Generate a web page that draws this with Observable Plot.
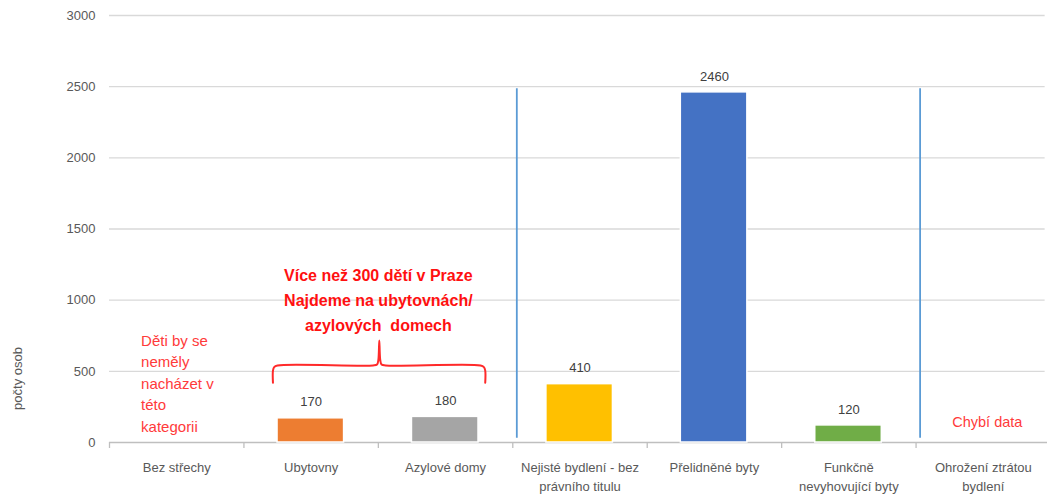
<!DOCTYPE html>
<html>
<head>
<meta charset="utf-8">
<script src="https://cdn.jsdelivr.net/npm/d3@7"></script>
<script src="https://cdn.jsdelivr.net/npm/@observablehq/plot@0.6"></script>
<style>
  html, body { margin: 0; padding: 0; background: #fff; }
  #chart svg { display: block; }
</style>
</head>
<body>
<div id="chart"></div>
<script>
// ---- data ----
const categories = [
  "Bez střechy",
  "Ubytovny",
  "Azylové domy",
  "Nejisté bydlení - bez\nprávního titulu",
  "Přelidněné byty",
  "Funkčně\nnevyhovující byty",
  "Ohrožení ztrátou\nbydlení"
];
const values = [null, 170, 180, 410, 2460, 120, null];
const barColors = ["#ffffff", "#ED7D31", "#A5A5A5", "#FFC000", "#4472C4", "#70AD47", "#ffffff"];
const yTicks = [0, 500, 1000, 1500, 2000, 2500, 3000];
const yLabel = "počty osob";
const noteLeft = "Děti by se\nneměly\nnacházet v\ntéto\nkategorii";
const noteBrace = "Více než 300 dětí v Praze\nNajdeme na ubytovnách/\nazylových  domech";
const noteMissing = "Chybí data";
// separator rules placed before these categories (indices)
const separators = [3, 6];

// ---- derived table ----
const data = categories.map((c, i) => ({i, category: c, value: values[i], color: barColors[i]}));
const bars = data.filter(d => d.value != null);

// brace path in data coordinates (x in category units, y in value units)
const braceX = [1.216, 1.216, 1.225, 1.25, 1.96, 1.99, 2.0, 2.007, 2.014, 2.024, 2.054, 2.76, 2.785, 2.795, 2.795];
const braceY = [420, 505, 530, 541, 541, 548, 580, 716, 580, 548, 541, 541, 530, 505, 420];
const brace = braceX.map((x, k) => ({x, y: braceY[k]}));

const font = "'Liberation Sans', Arial, sans-serif";
const grey = "#595959";

const plot = Plot.plot({
  width: 1047,
  height: 502,
  marginTop: 15,
  marginBottom: 60,
  marginLeft: 109,
  marginRight: 0,
  style: {fontFamily: font, background: "#fff", overflow: "visible"},
  x: {domain: [0, 7], range: [109, 1050], axis: null},
  y: {domain: [0, 3000], axis: null},
  marks: [
    // gridlines
    Plot.ruleY(yTicks.filter(t => t > 0), {stroke: "#D9D9D9", strokeWidth: 1.3, x1: 0, x2: 6.96}),
    // y tick labels
    Plot.text(yTicks, {y: d => d, frameAnchor: "left", dx: -14, textAnchor: "end", text: d => String(d), fill: grey, fontSize: 13}),
    // baseline and category ticks
    Plot.ruleY([0], {stroke: "#BFBFBF", strokeWidth: 1.3, x1: 0, x2: 7}),
    Plot.ruleX(d3.range(0, 8), {x: d => d, y1: 0, y2: 0, insetBottom: -6, stroke: "#BFBFBF", strokeWidth: 1.3}),
    // bars
    Plot.rectY(bars, {x1: d => d.i + 0.25, x2: d => d.i + 0.745, y1: 0, y2: "value", fill: "color", stroke: "#fff", strokeWidth: 1.5}),
    // value labels
    Plot.text(bars, {x: d => d.i + 0.5, y: "value", dy: -16, text: d => String(d.value), fill: "#404040", fontSize: 13}),
    // separators
    Plot.ruleX(separators, {x: d => d + 0.03, y1: 30, y2: 2485, stroke: "#5B9BD5", strokeWidth: 1.8}),
    // x category labels
    Plot.text(data, {x: d => d.i + 0.5, y: 0, dy: 16, lineAnchor: "top", lineHeight: 1.45, text: "category", fill: grey, fontSize: 13}),
    // y axis title
    Plot.text([yLabel], {frameAnchor: "left", y: 450, dx: -92, rotate: -90, textAnchor: "middle", fill: grey, fontSize: 13}),
    // annotations
    Plot.text([noteLeft], {x: 0.235, y: 785, textAnchor: "start", lineAnchor: "top", lineHeight: 1.43, fill: "#FF3A3A", fontSize: 15}),
    Plot.text([noteBrace], {x: 2.0, y: 1262, lineAnchor: "top", lineHeight: 1.56, fill: "#FF1010", fontSize: 16, fontWeight: "bold"}),
    Plot.line(brace, {x: "x", y: "y", stroke: "#FF2A2A", strokeWidth: 2, curve: "catmull-rom"}),
    Plot.text([noteMissing], {x: 6.53, y: 140, fill: "#FF3A3A", fontSize: 14.5})
  ]
});
document.getElementById("chart").appendChild(plot);
</script>
</body>
</html>
